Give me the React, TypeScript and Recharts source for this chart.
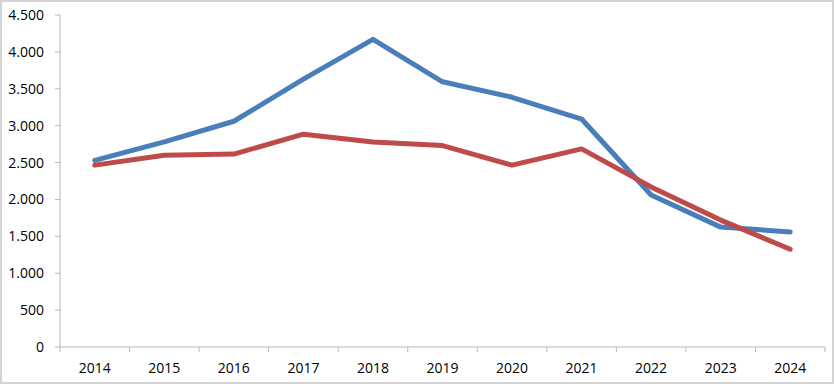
import { LineChart, Line, XAxis, YAxis } from "recharts";

const years = ["2014", "2015", "2016", "2017", "2018", "2019", "2020", "2021", "2022", "2023", "2024"];
const blueValues = [2530, 2780, 3060, 3630, 4170, 3595, 3385, 3090, 2060, 1625, 1560];
const redValues = [2465, 2600, 2615, 2885, 2780, 2730, 2465, 2685, 2170, 1720, 1325];
const yTicks = [0, 500, 1000, 1500, 2000, 2500, 3000, 3500, 4000, 4500];

const data = years.map((year, i) => ({ year, blue: blueValues[i], red: redValues[i] }));

const axisColor = "#b8b8b8";
const fontFamily = "'Open Sans', 'Liberation Sans', sans-serif";

// "4500" -> "4.500"
const formatThousands = (v: number) => String(v).replace(/\B(?=(\d{3})+(?!\d))/g, ".");

// Label at band centre, tick marks at band edges
const XTick = (props: any) => {
  const { x, y, payload, index } = props;
  const half = 69.5 / 2;
  const axisY = y - 8;
  return (
    <g>
      <line x1={x - half} y1={axisY} x2={x - half} y2={axisY + 5} stroke={axisColor} />
      {index === years.length - 1 && (
        <line x1={x + half} y1={axisY} x2={x + half} y2={axisY + 5} stroke={axisColor} />
      )}
      <text x={x} y={axisY + 26} textAnchor="middle" fill="#000" fontSize={14} fontFamily={fontFamily}>
        {payload.value}
      </text>
    </g>
  );
};

export default function App() {
  return (
    <div style={{ position: "absolute", left: 0, top: 0, width: 834, height: 384, background: "#fff" }}>
      <LineChart width={834} height={384} data={data} margin={{ top: 15, right: 9, bottom: 0, left: 0 }}>
        <XAxis
          dataKey="year"
          scale="band"
          height={37}
          interval={0}
          axisLine={{ stroke: axisColor }}
          tickLine={false}
          tick={<XTick />}
        />
        <YAxis
          width={60}
          domain={[0, 4500]}
          ticks={yTicks}
          interval={0}
          axisLine={{ stroke: axisColor }}
          tickLine={{ stroke: axisColor }}
          tickSize={5}
          tickMargin={11}
          tickFormatter={formatThousands}
          tick={{ fill: "#000", fontSize: 14, fontFamily }}
        />
        <Line
          dataKey="blue"
          stroke="#4A7EBB"
          strokeWidth={5}
          strokeLinecap="round"
          strokeLinejoin="round"
          dot={false}
          isAnimationActive={false}
        />
        <Line
          dataKey="red"
          stroke="#BE4B48"
          strokeWidth={5}
          strokeLinecap="round"
          strokeLinejoin="round"
          dot={false}
          isAnimationActive={false}
        />
      </LineChart>
      <div
        style={{
          position: "absolute",
          left: 0,
          top: 0,
          width: 834,
          height: 384,
          boxSizing: "border-box",
          border: "2px solid #d4d4d4",
          pointerEvents: "none",
        }}
      />
    </div>
  );
}
